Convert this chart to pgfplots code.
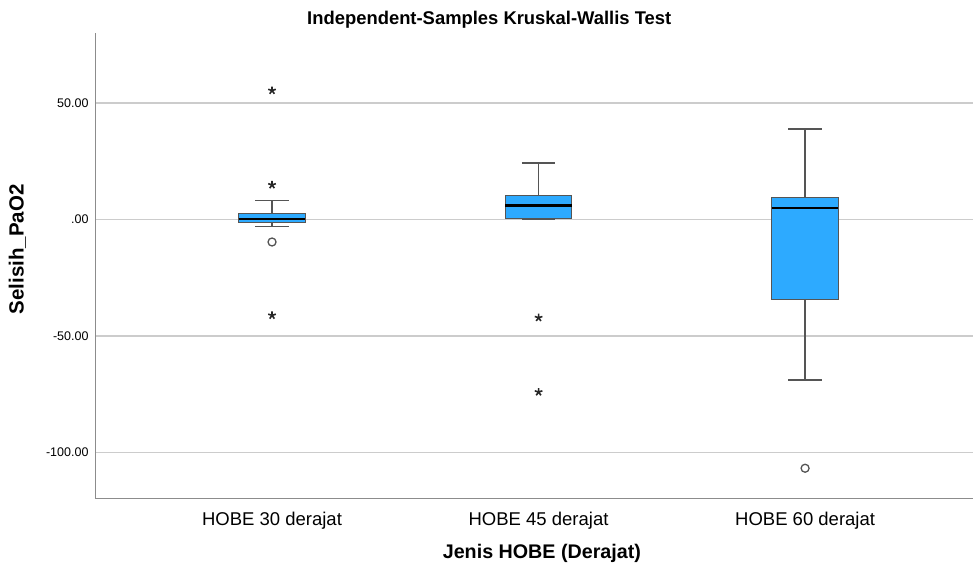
\documentclass[border=0pt]{standalone}
\usepackage{fontspec}
\setmainfont{Liberation Sans}
\usepackage{pgfplots}
\pgfplotsset{compat=1.18}
\definecolor{boxblue}{RGB}{45,170,255}
\definecolor{gridgray}{RGB}{204,204,204}
\definecolor{axgray}{RGB}{140,140,140}
\definecolor{edgegray}{RGB}{85,85,85}
\begin{document}
\begin{tikzpicture}
\path[use as bounding box] (0,0) rectangle (973pt,569pt);
\begin{axis}[
  at={(95pt,70pt)}, anchor=south west,
  scale only axis, width=878pt, height=466pt,
  xmin=0.3358, xmax=3.630, ymin=-120, ymax=80,
  axis lines*=left,
  axis line style={axgray, line width=1pt},
  xtick={1,2,3},
  xticklabels={HOBE 30 derajat, HOBE 45 derajat, HOBE 60 derajat},
  ytick={-100,-50,0,50},
  yticklabels={-100.00,-50.00,.00,50.00},
  major tick length=0pt,
  ymajorgrids, grid style={gridgray, line width=1.5pt},
  x tick label style={font=\fontsize{18.5}{20}\selectfont, yshift=-10pt},
  y tick label style={font=\fontsize{12.5}{14}\selectfont, xshift=-3pt},
  title={\textbf{Independent-Samples Kruskal-Wallis Test}},
  title style={font=\fontsize{18.4}{20}\selectfont, at={(axis description cs:0.449,1)}, anchor=center, yshift=7pt},
  xlabel={\textbf{Jenis HOBE (Derajat)}},
  xlabel style={font=\fontsize{19.7}{21}\selectfont, at={(axis description cs:0.509,0)}, anchor=center, yshift=-54pt},
  ylabel={\textbf{Selisih\_PaO2}},
  ylabel style={font=\fontsize{20.5}{22}\selectfont, at={(axis description cs:-0.0883,0.536)}, anchor=center},
  clip=false,
]
% ---- group 1: HOBE 30 (lw=-2.9, q1=-1.4, med=0.1, q3=2.7, uw=8.0)
\addplot[edgegray, line width=1.3pt] coordinates {(1,2.7) (1,8.0)};
\addplot[edgegray, line width=1.3pt] coordinates {(1,-1.4) (1,-2.9)};
\addplot[edgegray, line width=1.3pt] coordinates {(0.9375,8.0) (1.0625,8.0)};
\addplot[edgegray, line width=1.3pt] coordinates {(0.9375,-2.9) (1.0625,-2.9)};
\addplot[draw=edgegray, fill=boxblue, line width=0.9pt] coordinates {(0.875,-1.4) (1.125,-1.4) (1.125,2.7) (0.875,2.7)} -- cycle;
\addplot[black, line width=2.5pt] coordinates {(0.875,0.1) (1.125,0.1)};
% ---- group 2: HOBE 45 (lw=0.2, q1=0.3, med=6.0, q3=10.3, uw=24.2)
\addplot[edgegray, line width=1.3pt] coordinates {(2,10.3) (2,24.2)};
\addplot[edgegray, line width=1.3pt] coordinates {(1.9375,24.2) (2.0625,24.2)};
\addplot[edgegray, line width=1.3pt] coordinates {(1.9375,0.2) (2.0625,0.2)};
\addplot[draw=edgegray, fill=boxblue, line width=0.9pt] coordinates {(1.875,0.3) (2.125,0.3) (2.125,10.3) (1.875,10.3)} -- cycle;
\addplot[black, line width=2.5pt] coordinates {(1.875,6.0) (2.125,6.0)};
% ---- group 3: HOBE 60 (lw=-68.9, q1=-34.3, med=4.8, q3=9.3, uw=38.8)
\addplot[edgegray, line width=1.3pt] coordinates {(3,9.3) (3,38.8)};
\addplot[edgegray, line width=1.3pt] coordinates {(3,-34.3) (3,-68.9)};
\addplot[edgegray, line width=1.3pt] coordinates {(2.9375,38.8) (3.0625,38.8)};
\addplot[edgegray, line width=1.3pt] coordinates {(2.9375,-68.9) (3.0625,-68.9)};
\addplot[draw=edgegray, fill=boxblue, line width=0.9pt] coordinates {(2.875,-34.3) (3.125,-34.3) (3.125,9.3) (2.875,9.3)} -- cycle;
\addplot[black, line width=2.5pt] coordinates {(2.875,4.8) (3.125,4.8)};
% outliers (circles)
\addplot[only marks, mark=o, mark size=4pt, draw=edgegray, line width=1.3pt] coordinates {(1,-9.7) (3,-106.8)};
% extremes (stars)
\addplot[only marks, mark=star, mark size=4pt, draw=black!85, line width=1.6pt] coordinates {(1,55.3) (1,14.8) (1,-41.2) (2,-42.2) (2,-74.1)};
\end{axis}
\end{tikzpicture}
\end{document}
